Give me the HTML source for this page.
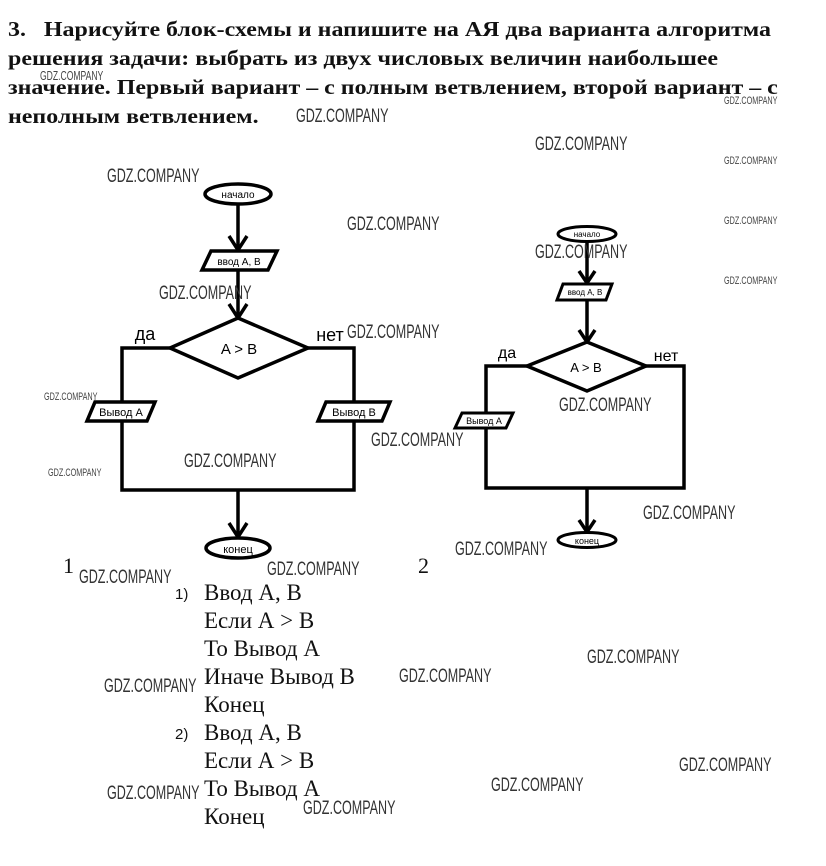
<!DOCTYPE html>
<html><head><meta charset="utf-8"><style>
body{margin:0;background:#fff;width:826px;height:866px;position:relative;overflow:hidden}
.h{position:absolute;left:8px;font:bold 21px "Liberation Serif","Noto Serif CJK SC",serif;color:#111;white-space:nowrap;transform:scaleX(1.14);transform-origin:0 0}
.w{position:absolute;font:19px "Liberation Sans",sans-serif;color:#333;transform:scaleX(0.66);transform-origin:0 0;white-space:nowrap}
.ws{position:absolute;font:11px "Liberation Sans",sans-serif;color:#444;transform:scaleX(0.66);transform-origin:0 0;white-space:nowrap}
.t{position:absolute;left:204px;font:23px "Liberation Serif",serif;color:#111;white-space:nowrap}
.n{position:absolute;font:15px "Liberation Sans",sans-serif;color:#111}
svg{position:absolute;left:0;top:0}
</style></head><body>
<div class="h" style="top:17px">3.&nbsp;&nbsp; Нарисуйте блок-схемы и напишите на АЯ два варианта алгоритма</div>
<div class="h" style="top:46px">решения задачи: выбрать из двух числовых величин наибольшее</div>
<div class="h" style="top:75px">значение. Первый вариант – с полным ветвлением, второй вариант – с</div>
<div class="h" style="top:104px">неполным ветвлением.</div>

<svg width="826" height="866" viewBox="0 0 826 866">
<g stroke="#000" stroke-width="3.5" fill="none">
<ellipse cx="238" cy="194" rx="33" ry="10" fill="#fff"/>
<line x1="238" y1="204" x2="238" y2="250"/>
<polyline points="229,236 238,250 247,236"/>
<polygon points="211,251 277,251 268,270 202,270" fill="#fff"/>
<line x1="238" y1="270" x2="238" y2="318"/>
<polyline points="229,304 238,318 247,304"/>
<polygon points="238,318 308,348 238,378 170,348" fill="#fff"/>
<polyline points="170,348 122,348 122,402"/>
<polygon points="95,402 155,402 147,421 87,421" fill="#fff"/>
<polyline points="122,421 122,490 354,490 354,421"/>
<polyline points="308,348 354,348 354,402"/>
<polygon points="326,402 390,402 382,421 318,421" fill="#fff"/>
<line x1="238" y1="490" x2="238" y2="537"/>
<polyline points="229,523 238,537 247,523"/>
<ellipse cx="238" cy="548" rx="32" ry="10" fill="#fff"/>

<ellipse cx="587" cy="234" rx="29" ry="7.5" fill="#fff" stroke-width="3"/>
<line x1="587" y1="242" x2="587" y2="283"/>
<polyline points="579,271 587,283 595,271"/>
<polygon points="563,284 612,284 606,300 557,300" fill="#fff" stroke-width="3"/>
<line x1="587" y1="300" x2="587" y2="342"/>
<polyline points="579,330 587,342 595,330"/>
<polygon points="587,342 646,366 587,391 527,366" fill="#fff"/>
<polyline points="527,366 486,366 486,413"/>
<polygon points="462,413 513,413 506,428 455,428" fill="#fff" stroke-width="3"/>
<polyline points="486,428 486,488 684,488 684,366 646,366"/>
<line x1="587" y1="488" x2="587" y2="532"/>
<polyline points="579,520 587,532 595,520"/>
<ellipse cx="587" cy="540" rx="29" ry="7.5" fill="#fff" stroke-width="3"/>
</g>
<g font-family="Liberation Sans,sans-serif" fill="#000" text-anchor="middle">
<text x="238" y="198" font-size="10">начало</text>
<text x="239" y="265" font-size="10">ввод А, В</text>
<text x="239" y="354" font-size="15">A &gt; B</text>
<text x="121" y="416" font-size="11">Вывод А</text>
<text x="354" y="416" font-size="11">Вывод В</text>
<text x="238" y="553" font-size="11">конец</text>
<text x="145" y="340" font-size="18">да</text>
<text x="330" y="341" font-size="18">нет</text>
<text x="587" y="237" font-size="8">начало</text>
<text x="585" y="295" font-size="8">ввод А, В</text>
<text x="586" y="372" font-size="13">A &gt; B</text>
<text x="484" y="424" font-size="9">Вывод А</text>
<text x="587" y="544" font-size="9">конец</text>
<text x="507" y="358" font-size="16">да</text>
<text x="666" y="361" font-size="16">нет</text>
</g>
</svg>

<div class="n" style="left:63px;top:553px;font:22px 'Liberation Serif',serif">1</div>
<div class="n" style="left:418px;top:553px;font:22px 'Liberation Serif',serif">2</div>
<div class="n" style="left:175px;top:586px">1)</div>
<div class="n" style="left:175px;top:726px">2)</div>
<div class="t" style="top:580px">Ввод А, В</div>
<div class="t" style="top:608px">Если А &gt; В</div>
<div class="t" style="top:636px">То Вывод А</div>
<div class="t" style="top:664px">Иначе Вывод В</div>
<div class="t" style="top:692px">Конец</div>
<div class="t" style="top:720px">Ввод А, В</div>
<div class="t" style="top:748px">Если А &gt; В</div>
<div class="t" style="top:776px">То Вывод А</div>
<div class="t" style="top:804px">Конец</div>

<div class="w" style="left:296px;top:106px">GDZ.COMPANY</div>
<div class="w" style="left:535px;top:134px">GDZ.COMPANY</div>
<div class="w" style="left:107px;top:166px">GDZ.COMPANY</div>
<div class="w" style="left:347px;top:214px">GDZ.COMPANY</div>
<div class="w" style="left:535px;top:242px">GDZ.COMPANY</div>
<div class="w" style="left:159px;top:283px">GDZ.COMPANY</div>
<div class="w" style="left:347px;top:322px">GDZ.COMPANY</div>
<div class="w" style="left:559px;top:395px">GDZ.COMPANY</div>
<div class="w" style="left:371px;top:430px">GDZ.COMPANY</div>
<div class="w" style="left:184px;top:451px">GDZ.COMPANY</div>
<div class="w" style="left:643px;top:503px">GDZ.COMPANY</div>
<div class="w" style="left:455px;top:539px">GDZ.COMPANY</div>
<div class="w" style="left:79px;top:567px">GDZ.COMPANY</div>
<div class="w" style="left:267px;top:559px">GDZ.COMPANY</div>
<div class="w" style="left:587px;top:647px">GDZ.COMPANY</div>
<div class="w" style="left:104px;top:676px">GDZ.COMPANY</div>
<div class="w" style="left:399px;top:666px">GDZ.COMPANY</div>
<div class="w" style="left:679px;top:755px">GDZ.COMPANY</div>
<div class="w" style="left:491px;top:775px">GDZ.COMPANY</div>
<div class="w" style="left:107px;top:783px">GDZ.COMPANY</div>
<div class="w" style="left:303px;top:798px">GDZ.COMPANY</div>
<div class="ws" style="left:40px;top:68px;font-size:13px">GDZ.COMPANY</div>
<div class="ws" style="left:724px;top:95px">GDZ.COMPANY</div>
<div class="ws" style="left:724px;top:155px">GDZ.COMPANY</div>
<div class="ws" style="left:724px;top:215px">GDZ.COMPANY</div>
<div class="ws" style="left:724px;top:275px">GDZ.COMPANY</div>
<div class="ws" style="left:44px;top:391px">GDZ.COMPANY</div>
<div class="ws" style="left:48px;top:467px">GDZ.COMPANY</div>
</body></html>
